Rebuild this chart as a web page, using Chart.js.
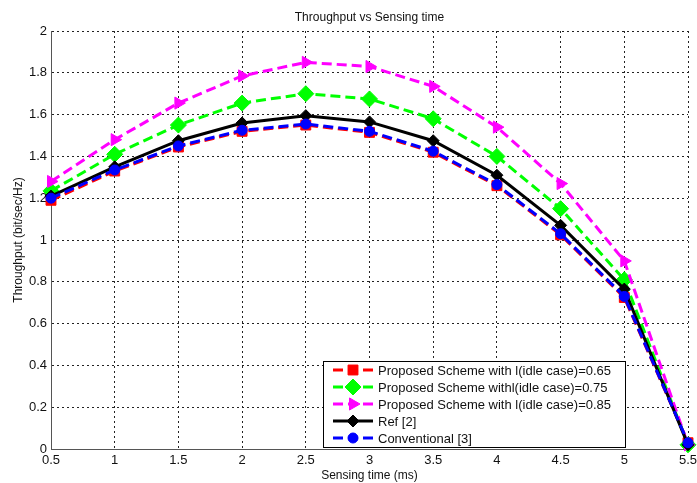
<!DOCTYPE html>
<html>
<head>
<meta charset="utf-8">
<script src="https://cdn.jsdelivr.net/npm/chart.js@4.4.1/dist/chart.umd.min.js"></script>
<style>
  html, body { margin: 0; padding: 0; background: #fff; }
  #wrap { width: 697px; height: 483px; }
</style>
</head>
<body>
<div id="wrap"><canvas id="chart" width="697" height="483"></canvas></div>
<script>
'use strict';

// values
const sensingTime = [0.5, 1, 1.5, 2, 2.5, 3, 3.5, 4, 4.5, 5, 5.5];
const proposed065 = [1.19, 1.33, 1.445, 1.52, 1.55, 1.515, 1.42, 1.26, 1.025, 0.725, 0.03];
const proposed075 = [1.235, 1.41, 1.55, 1.655, 1.70, 1.675, 1.58, 1.40, 1.15, 0.81, 0.02];
const proposed085 = [1.28, 1.48, 1.655, 1.785, 1.85, 1.83, 1.735, 1.54, 1.27, 0.90, 0.02];
const ref2 = [1.21, 1.35, 1.475, 1.56, 1.595, 1.565, 1.475, 1.31, 1.07, 0.765, 0.02];
const conventional3 = [1.20, 1.335, 1.45, 1.525, 1.555, 1.52, 1.425, 1.265, 1.03, 0.73, 0.03];

const seriesLabels = [
  'Proposed Scheme with l(idle case)=0.65',
  'Proposed Scheme withl(idle case)=0.75',
  'Proposed Scheme with l(idle case)=0.85',
  'Ref [2]',
  'Conventional [3]'
];

const FONT = "'Liberation Sans', Arial, sans-serif";
const DASH = [10, 5];

const toPoints = ys => ys.map((y, i) => ({ x: sensingTime[i], y }));
// MATLAB prints 1 and 2, not 1.0 and 2.0
const plainTick = v => String(Number(v.toFixed(2)));

function makeDataset(label, values, color, style, opts) {
  return {
    label,
    data: toPoints(values),
    borderColor: color,
    backgroundColor: color,
    borderWidth: 3,
    borderDash: opts.dash,
    pointStyle: style,
    pointRadius: opts.radius,
    pointRotation: opts.rotation || 0,
    pointBorderWidth: 1,
    pointBorderColor: color,
    pointBackgroundColor: color,
    tension: 0,
    clip: false,
    order: opts.order
  };
}

const datasets = [
  makeDataset(seriesLabels[0], proposed065, '#ff0000', 'rect', { dash: DASH, radius: 7, order: 5 }),
  makeDataset(seriesLabels[1], proposed075, '#00ff00', 'rectRot', { dash: DASH, radius: 8, order: 4 }),
  makeDataset(seriesLabels[2], proposed085, '#ff00ff', 'triangle', { dash: DASH, radius: 7, rotation: 90, order: 3 }),
  makeDataset(seriesLabels[3], ref2, '#000000', 'rectRot', { dash: [], radius: 6, order: 2 }),
  makeDataset(seriesLabels[4], conventional3, '#0000ff', 'circle', { dash: DASH, radius: 5, order: 1 })
];

// title centred over the plot area
const titlePlugin = {
  id: 'plotTitle',
  afterDraw(chart) {
    const { ctx, chartArea } = chart;
    ctx.save();
    ctx.font = '12px ' + FONT;
    ctx.fillStyle = '#111';
    ctx.textAlign = 'center';
    ctx.textBaseline = 'middle';
    ctx.fillText('Throughput vs Sensing time', (chartArea.left + chartArea.right) / 2, 18);
    ctx.restore();
  }
};

// MATLAB style boxed legend, lower middle of the plot
const boxLegend = {
  id: 'boxLegend',
  afterDraw(chart) {
    const { ctx } = chart;
    const box = { x: 323.5, y: 361.5, w: 302, h: 86 };
    const rowY = [370, 387, 404, 421, 438];
    ctx.save();
    ctx.fillStyle = '#fff';
    ctx.fillRect(box.x, box.y, box.w, box.h);
    ctx.strokeStyle = '#000';
    ctx.lineWidth = 1;
    ctx.strokeRect(box.x, box.y, box.w, box.h);
    chart.data.datasets.forEach((ds, i) => {
      const y = rowY[i];
      ctx.save();
      ctx.strokeStyle = ds.borderColor;
      ctx.lineWidth = 3;
      ctx.setLineDash(ds.borderDash || []);
      ctx.beginPath();
      ctx.moveTo(333, y);
      ctx.lineTo(373, y);
      ctx.stroke();
      ctx.restore();
      ctx.save();
      ctx.fillStyle = ds.pointBackgroundColor;
      ctx.strokeStyle = ds.pointBorderColor;
      ctx.lineWidth = 1;
      Chart.helpers.drawPoint(ctx, {
        pointStyle: ds.pointStyle,
        radius: ds.pointRadius,
        rotation: ds.pointRotation,
        borderWidth: 1
      }, 353, y);
      ctx.restore();
      ctx.font = '13px ' + FONT;
      ctx.fillStyle = '#111';
      ctx.textAlign = 'left';
      ctx.textBaseline = 'middle';
      ctx.fillText(ds.label, 378, y + 1);
    });
    ctx.restore();
  }
};

new Chart(document.getElementById('chart'), {
  type: 'line',
  data: { datasets },
  plugins: [titlePlugin, boxLegend],
  options: {
    responsive: false,
    animation: false,
    events: [],
    layout: { padding: { top: 31, right: 9, left: 0, bottom: 0 } },
    plugins: {
      legend: { display: false },
      title: { display: false },
      tooltip: { enabled: false }
    },
    scales: {
      x: {
        type: 'linear',
        min: 0.5,
        max: 5.5,
        ticks: {
          stepSize: 0.5,
          color: '#111',
          font: { family: FONT, size: 13 },
          padding: 4,
          maxRotation: 0,
          autoSkip: false,
          callback: plainTick
        },
        grid: { color: '#222', lineWidth: 1, drawTicks: false },
        border: { display: true, color: '#555', width: 1, dash: [2, 3] },
        title: {
          display: true,
          text: 'Sensing time (ms)',
          color: '#111',
          font: { family: FONT, size: 12 },
          padding: { top: 0, bottom: 0 }
        },
        afterFit(scale) {
          scale.height = 34;
          scale.paddingLeft = 0;
          scale.paddingRight = 0;
        }
      },
      y: {
        min: 0,
        max: 2,
        ticks: {
          stepSize: 0.2,
          color: '#111',
          font: { family: FONT, size: 13 },
          padding: 4,
          callback: plainTick
        },
        grid: { color: '#222', lineWidth: 1, drawTicks: false },
        border: { display: true, color: '#555', width: 1, dash: [2, 3] },
        title: {
          display: true,
          text: 'Throughput (bit/sec/Hz)',
          color: '#111',
          font: { family: FONT, size: 12 },
          padding: { top: 11, bottom: 0 }
        },
        afterFit(scale) {
          scale.width = 51;
          scale.paddingTop = 0;
          scale.paddingBottom = 0;
        }
      }
    }
  }
});
</script>
</body>
</html>
